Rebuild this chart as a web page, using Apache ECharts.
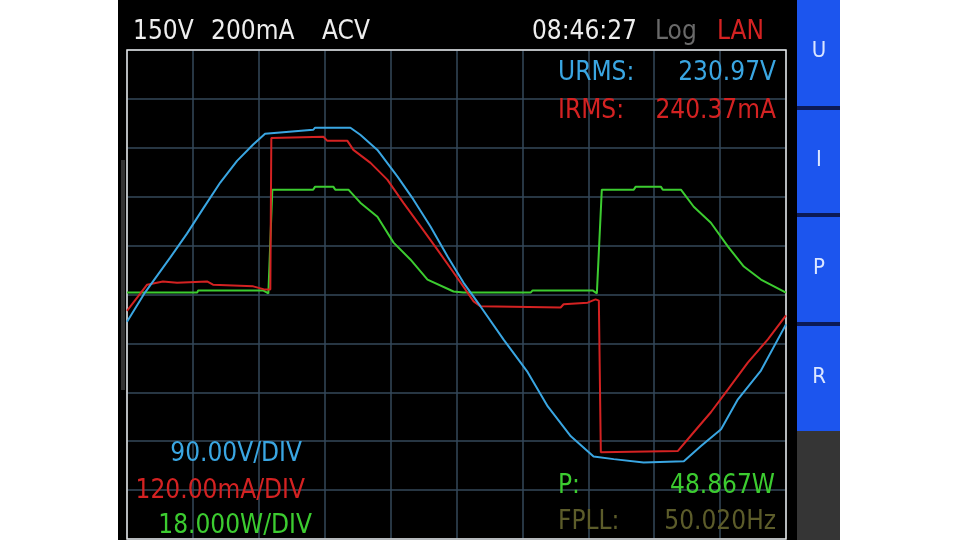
<!DOCTYPE html>
<html>
<head>
<meta charset="utf-8">
<script src="https://cdn.jsdelivr.net/npm/echarts@6/dist/echarts.min.js"></script>
<style>
html,body{margin:0;padding:0;background:#fff;}
#c{width:960px;height:540px;}
</style>
</head>
<body>
<div id="c"></div>
<script>
// time axis in ms (2 ms/div, 10 divisions)
const timeU = [0,0.55,1.31,1.82,2.31,2.83,3.34,3.83,4.19,5.65,5.71,6.78,7.08,7.60,8.21,8.69,9.21,9.73,10.21,10.73,11.43,12.16,12.77,13.47,14.16,14.77,15.68,16.90,17.42,18.03,18.54,19.24,20];
const voltU = [-50,4,68,112,158,206,246,276,296,303,307,307,294,266,217,175,125,70,22,-22,-83,-143,-206,-261,-298,-303,-309,-307,-279,-248,-193,-140,-55];

const timeI = [0,0.61,1.09,1.52,2.43,2.61,3.83,4.19,4.35,4.38,5.96,6.08,6.69,6.87,7.39,7.90,8.39,8.91,9.42,9.91,10.52,10.73,13.16,13.25,13.98,14.22,14.32,14.38,16.72,17.20,17.72,18.24,18.84,19.45,20];
const currI = [-40,24,32,29,32,24,20,12,12,384,387,377,377,355,323,282,225,167,110,54,-17,-29,-32,-24,-20,-12,-15,-387,-384,-338,-289,-233,-167,-110,-51];

const timeP = [0,2.13,2.16,4.13,4.29,4.41,5.65,5.71,6.26,6.32,6.72,7.08,7.60,8.09,8.60,9.12,9.91,10.21,12.25,12.31,14.13,14.26,14.41,15.38,15.44,16.20,16.26,16.81,17.20,17.72,18.24,18.72,19.24,20];
const powP = [0.7,0.7,1.5,1.5,0.4,38.6,38.6,39.7,39.7,38.6,38.6,33.8,28.6,19.1,12.9,5.5,1.1,0.7,0.7,1.5,1.5,0.4,38.6,38.6,39.7,39.7,38.6,38.6,32.3,26.4,17.6,10.3,5.5,0.7];

const FONT = "'DejaVu Sans Condensed','Liberation Sans Narrow','DejaVu Sans',sans-serif";
const zip = (a,b) => a.map((v,i)=>[v,b[i]]);

const chart = echarts.init(document.getElementById('c'), null, {renderer:'canvas'});

function txt(text, x, y, color, align, size){
  return {type:'text', z:100, style:{text:text, x:x, y:y, fill:color, textAlign:align||'left', textVerticalAlign:'middle', font:'normal '+(size||26)+'px '+FONT}};
}
function rect(x,y,w,h,color,z){
  return {type:'rect', z:z||0, silent:true, shape:{x:x,y:y,width:w,height:h}, style:{fill:color}};
}

const BLUE='#3aa6e2', RED='#d42222', GREEN='#3ccc30';

chart.setOption({
  backgroundColor:'#ffffff',
  animation:false,
  grid:{left:127, top:50, width:659, height:489, show:true, borderColor:'#e6e6e6', borderWidth:1.5, backgroundColor:'transparent', z:3},
  xAxis:{type:'value', min:0, max:20, interval:2, axisLine:{show:false}, axisTick:{show:false}, axisLabel:{show:false},
    splitLine:{show:true, lineStyle:{color:'#34495a', width:1.5}}},
  yAxis:[
    {type:'value', min:-450, max:450, interval:90, axisLine:{show:false}, axisTick:{show:false}, axisLabel:{show:false},
      splitLine:{show:true, lineStyle:{color:'#34495a', width:1.5}}},
    {type:'value', min:-600, max:600, show:false, splitLine:{show:false}},
    {type:'value', min:-90, max:90, show:false, splitLine:{show:false}}
  ],
  series:[
    {type:'line', yAxisIndex:2, data:zip(timeP,powP), showSymbol:false, lineStyle:{color:GREEN, width:2}, z:4},
    {type:'line', yAxisIndex:1, data:zip(timeI,currI), showSymbol:false, lineStyle:{color:RED, width:2}, z:5},
    {type:'line', yAxisIndex:0, data:zip(timeU,voltU), showSymbol:false, lineStyle:{color:BLUE, width:2}, z:6}
  ],
  graphic:{elements:[
    {type:'group', z:-10, silent:true, children:[
      rect(118,0,679,540,'#000000',-10),
      rect(121,160,4,230,'#333333',-9)
    ]},
    rect(797,0,43,540,'#1c55ee',10),
    rect(797,106,43,4,'#0c1a55',11),
    rect(797,213,43,4,'#0c1a55',11),
    rect(797,322,43,4,'#0c1a55',11),
    rect(797,431,43,109,'#353535',11),
    txt('U',819,51,'#dbe6ff','center',22),
    txt('I',819,160,'#dbe6ff','center',22),
    txt('P',819,268,'#dbe6ff','center',22),
    txt('R',819,377,'#dbe6ff','center',22),
    txt('150V',133,32,'#eeeeee'),
    txt('200mA',211,32,'#eeeeee'),
    txt('ACV',322,32,'#eeeeee'),
    txt('08:46:27',637,32,'#eeeeee','right'),
    txt('Log',655,32,'#6a6a6a'),
    txt('LAN',717,32,RED),
    txt('URMS:',558,73,BLUE),
    txt('230.97V',776,73,BLUE,'right'),
    txt('IRMS:',558,111,RED),
    txt('240.37mA',776,111,RED,'right'),
    txt('90.00V/DIV',302,454,BLUE,'right'),
    txt('120.00mA/DIV',305,491,RED,'right'),
    txt('18.000W/DIV',312,526,GREEN,'right'),
    txt('P:',558,486,GREEN),
    txt('48.867W',775,486,GREEN,'right'),
    txt('FPLL:',558,522,'#5c5c2a'),
    txt('50.020Hz',776,522,'#5c5c2a','right')
  ]}
});
</script>
</body>
</html>
